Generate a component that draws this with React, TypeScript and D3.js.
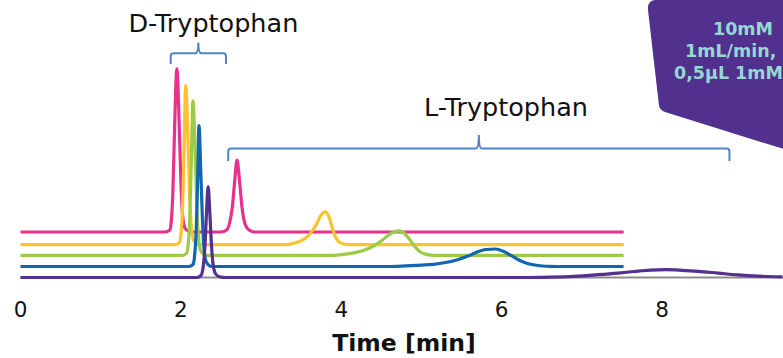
import React from 'react';
import * as d3 from 'd3';

// chromatogram traces: [time (min), signal above own baseline]
const pinkTrace: [number, number][] = [
  [0, 0], [1.8, 0], [1.86, 0.9], [1.88, 5.4], [1.9, 20], [1.92, 50], [1.95, 81.6], [1.98, 52], [2.0, 25],
  [2.02, 9], [2.05, 2], [2.1, 0.3], [2.16, 0], [2.5, 0], [2.57, 1], [2.61, 5], [2.64, 12], [2.67, 25],
  [2.7, 36], [2.73, 26], [2.76, 13], [2.8, 4], [2.85, 1], [2.92, 0], [7.52, 0],
];
const yellowTrace: [number, number][] = [
  [0, 0], [1.93, 0], [1.98, 1], [2.0, 5], [2.02, 18], [2.04, 48], [2.06, 79.6], [2.09, 50], [2.11, 24],
  [2.13, 9], [2.16, 2], [2.22, 0], [3.3, 0], [3.4, 0.6], [3.5, 2], [3.58, 4.2], [3.64, 7], [3.7, 11],
  [3.75, 15], [3.8, 16.4], [3.84, 14.5], [3.88, 9.5], [3.92, 4.5], [3.96, 1.8], [4.02, 0.5], [4.1, 0], [7.52, 0],
];
const greenTrace: [number, number][] = [
  [0, 0], [2.02, 0], [2.07, 1], [2.09, 5], [2.11, 18], [2.13, 47], [2.15, 77.2], [2.18, 48], [2.2, 24],
  [2.22, 9], [2.25, 2], [2.31, 0], [3.9, 0], [4.0, 0.3], [4.1, 0.8], [4.2, 1.6], [4.3, 2.8], [4.4, 4.6],
  [4.5, 7.2], [4.58, 9.8], [4.66, 11.8], [4.72, 12.2], [4.78, 11.2], [4.85, 8], [4.92, 4.2], [4.98, 1.8],
  [5.05, 0.6], [5.15, 0], [7.52, 0],
];
const blueTrace: [number, number][] = [
  [0, 0], [2.1, 0], [2.15, 1], [2.17, 5], [2.19, 17], [2.21, 45], [2.225, 70.5], [2.25, 45], [2.27, 22],
  [2.29, 8], [2.32, 2], [2.38, 0], [4.6, 0], [4.8, 0.3], [5.0, 0.7], [5.15, 1.1], [5.3, 2], [5.45, 3.4],
  [5.58, 5.2], [5.7, 7.4], [5.8, 8.5], [5.92, 8.75], [6.02, 7.6], [6.12, 5.4], [6.22, 3.1], [6.32, 1.5],
  [6.45, 0.5], [6.6, 0.1], [6.75, 0], [7.52, 0],
];
const purpleTrace: [number, number][] = [
  [0, 0], [2.2, 0], [2.25, 1], [2.28, 6], [2.3, 16], [2.32, 33], [2.34, 45.4], [2.36, 33], [2.38, 17],
  [2.4, 7], [2.43, 2], [2.48, 0.4], [2.56, 0], [6.3, 0], [6.6, 0.2], [6.9, 0.6], [7.2, 1.4], [7.45, 2.2],
  [7.65, 3], [7.85, 3.7], [8.05, 3.9], [8.25, 3.6], [8.45, 3.1], [8.7, 2.2], [8.95, 1.3], [9.2, 0.7], [9.5, 0.3],
];

// vertical stacking offset of each trace (signal units)
const traces = [pinkTrace, yellowTrace, greenTrace, blueTrace, purpleTrace];
const traceOffsets = [22.75, 16.4, 11.1, 5.5, 0];
const traceColors = ['#e8318c', '#fdc22c', '#9ccb45', '#1066b0', '#54308f'];

const xTicks = [0, 2, 4, 6, 8];
const xTitle = 'Time [min]';

// annotation brackets: [start, end] in minutes
const dRange: [number, number] = [1.873, 2.562];
const lRange: [number, number] = [2.59, 8.84];
const conditions = ['10mM', '1mL/min,', '0,5µL 1mM'];

const width = 783;
const height = 358;

const x = d3.scaleLinear().domain([0, 10]).range([20.5, 20.5 + 10 * 80.2]);
const y = d3.scaleLinear().domain([0, 100]).range([277.5, 77.5]);

const braceColor = '#4f85c6';

// horizontal curly brace path
function brace(x1: number, x2: number, yH: number, yEnd: number, yTip: number) {
  const r = 3;
  const xm = (x1 + x2) / 2;
  return `M${x1},${yEnd} L${x1},${yH + r} Q${x1},${yH} ${x1 + r},${yH} L${xm - 3},${yH} Q${xm},${yH} ${xm},${yTip}`
    + ` Q${xm},${yH} ${xm + 3},${yH} L${x2 - r},${yH} Q${x2},${yH} ${x2},${yH + r} L${x2},${yEnd}`;
}

const App: React.FC = () => {
  const font = 'DejaVu Sans, Verdana, sans-serif';

  return (
    <svg width={width} height={height} style={{ position: 'absolute', left: 0, top: 0 }}>
      {/* conditions box, top right */}
      <path
        d="M648,10 Q647,1 655,0 L790,0 L790,151 L665,112 Q659,110 658.8,104 Z"
        fill="#51308e"
      />
      {conditions.map((c, i) => (
        <text
          key={c}
          x={[713, 685, 674][i]}
          y={35 + i * 22}
          fontFamily={font}
          fontWeight="bold"
          fontSize={17.5}
          fill="#94d8d0"
        >
          {c}
        </text>
      ))}

      {/* baseline */}
      <line x1={x(0)} x2={width} y1={y(0)} y2={y(0)} stroke="#8c8c8c" strokeWidth={2} />

      {traces.map((tr, i) => {
        const line = d3
          .line<[number, number]>()
          .x(d => x(d[0]))
          .y(d => y(d[1] + traceOffsets[i]))
          .curve(d3.curveMonotoneX);
        return (
          <path
            key={i}
            d={line(tr) || ''}
            fill="none"
            stroke={traceColors[i]}
            strokeWidth={3.2}
            strokeLinejoin="round"
          />
        );
      })}

      {/* brackets and labels */}
      <path d={brace(x(dRange[0]), x(dRange[1]), 53.3, 64, 42.5)} fill="none" stroke={braceColor} strokeWidth={2} />
      <path d={brace(x(lRange[0]), x(lRange[1]), 148.5, 161, 135)} fill="none" stroke={braceColor} strokeWidth={2} />
      <text x={213.4} y={32.3} textAnchor="middle" fontFamily={font} fontSize={25.5} fill="#111">
        D-Tryptophan
      </text>
      <text x={506} y={115.5} textAnchor="middle" fontFamily={font} fontSize={25.5} fill="#111">
        L-Tryptophan
      </text>

      {/* x axis labels */}
      {xTicks.map(t => (
        <text key={t} x={x(t)} y={316.5} textAnchor="middle" fontFamily={font} fontSize={21.5} fill="#111">
          {t}
        </text>
      ))}
      <text x={404} y={351} textAnchor="middle" fontFamily={font} fontWeight="bold" fontSize={23.5} fill="#111">
        {xTitle}
      </text>
    </svg>
  );
};

export default App;
